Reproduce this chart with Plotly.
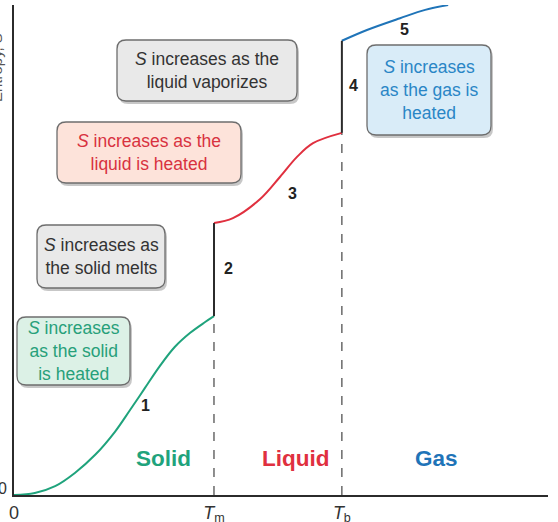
import plotly.graph_objects as go

# ---- data (arbitrary units: temperature 0..100, entropy 0..100) ----
T_m = 37.45
T_b = 61.4

solid_T = [0, 3.9, 7.7, 11.4, 15.2, 18.9, 21.7, 24.5, 27.3, 30.1, 33.0, 35.8, 37.45]
solid_S = [0, 0.4, 1.8, 4.5, 8.2, 12.9, 17.3, 21.8, 26.3, 30.2, 33.1, 35.3, 36.5]

liquid_T = [37.45, 41.0, 46.1, 49.8, 53.0, 56.0, 61.4]
liquid_S = [55.5, 56.5, 60.4, 64.9, 69.0, 71.8, 73.9]

gas_T = [61.4, 66.1, 72.3, 77.0, 81.3]
gas_S = [92.7, 94.9, 97.3, 99.0, 100.0]

x_tick_vals = [0, T_m, T_b]
x_tick_text = ["0", "<i>T</i><sub>m</sub>", "<i>T</i><sub>b</sub>"]

GREEN = "#1fa37c"
RED = "#e0303f"
BLUE = "#1f74b8"
DARK = "#2b2b2b"
FONT = "Liberation Sans, Arial"

# ---- layout geometry ----
W, H = 558, 522
ML, MR, MT, MB = 14, 10, 5, 27
PW, PH = W - ML - MR, H - MT - MB
XR, YR = [0, 100], [0, 100]


def px2x(px):
    return XR[0] + (px - ML) / PW * (XR[1] - XR[0])


def py2y(py):
    return YR[0] + (MT + PH - py) / PH * (YR[1] - YR[0])


def rounded_path(x0, y0, x1, y1, r=9):
    pts = []
    pts.append(f"M {px2x(x0 + r)},{py2y(y0)}")
    pts.append(f"L {px2x(x1 - r)},{py2y(y0)}")
    pts.append(f"Q {px2x(x1)},{py2y(y0)} {px2x(x1)},{py2y(y0 + r)}")
    pts.append(f"L {px2x(x1)},{py2y(y1 - r)}")
    pts.append(f"Q {px2x(x1)},{py2y(y1)} {px2x(x1 - r)},{py2y(y1)}")
    pts.append(f"L {px2x(x0 + r)},{py2y(y1)}")
    pts.append(f"Q {px2x(x0)},{py2y(y1)} {px2x(x0)},{py2y(y1 - r)}")
    pts.append(f"L {px2x(x0)},{py2y(y0 + r)}")
    pts.append(f"Q {px2x(x0)},{py2y(y0)} {px2x(x0 + r)},{py2y(y0)} Z")
    return " ".join(pts)


fig = go.Figure()

for xs, ys, col in [(solid_T, solid_S, GREEN), (liquid_T, liquid_S, RED), (gas_T, gas_S, BLUE)]:
    fig.add_trace(go.Scatter(x=xs, y=ys, mode="lines",
                             line=dict(color=col, width=2, shape="spline", smoothing=1.0),
                             hoverinfo="skip"))
# vertical jumps
fig.add_trace(go.Scatter(x=[T_m, T_m], y=[solid_S[-1], liquid_S[0]], mode="lines",
                         line=dict(color=DARK, width=2), hoverinfo="skip"))
fig.add_trace(go.Scatter(x=[T_b, T_b], y=[liquid_S[-1], gas_S[0]], mode="lines",
                         line=dict(color=DARK, width=2), hoverinfo="skip"))

shapes = []
shapes.append(dict(type="line", x0=T_m, x1=T_m, y0=0, y1=solid_S[-1],
                   line=dict(color="#444", width=1.2, dash="dash"), layer="below"))
shapes.append(dict(type="line", x0=T_b, x1=T_b, y0=0, y1=liquid_S[-1],
                   line=dict(color="#444", width=1.2, dash="dash"), layer="below"))

boxes = [
    (117, 40, 297, 101, "#e9e9e9", "#333333",
     "<i>S</i> increases as the<br>liquid vaporizes"),
    (57, 122, 241, 183, "#fde3da", "#d8323f",
     "<i>S</i> increases as the<br>liquid is heated"),
    (37, 225, 165, 288, "#e9e9e9", "#333333",
     "<i>S</i> increases as<br>the solid melts"),
    (17, 317, 130, 385, "#dcf1e6", "#27a07a",
     "<i>S</i> increases<br>as the solid<br>is heated"),
    (367, 45, 491, 135, "#d9ecf8", "#2a86c6",
     "<i>S</i> increases<br>as the gas is<br>heated"),
]

annotations = []
for (x0, y0, x1, y1, fill, tc, txt) in boxes:
    shapes.append(dict(type="path", path=rounded_path(x0 + 2, y0 + 3, x1 + 2, y1 + 3),
                       fillcolor="rgba(0,0,0,0.22)", line=dict(width=0), layer="above"))
    shapes.append(dict(type="path", path=rounded_path(x0, y0, x1, y1),
                       fillcolor=fill, line=dict(color="#6d6d6d", width=1.3), layer="above"))
    annotations.append(dict(x=px2x((x0 + x1) / 2), y=py2y((y0 + y1) / 2),
                            xref="x", yref="y", text=txt, showarrow=False,
                            font=dict(size=17.5, color=tc, family=FONT),
                            align="center"))

for n, (px, py) in zip(["1", "2", "3", "4", "5"],
                       [(145, 405), (228, 268), (292, 193), (353, 85), (404, 29)]):
    annotations.append(dict(x=px2x(px), y=py2y(py), xref="x", yref="y", text=f"<b>{n}</b>",
                            showarrow=False,
                            font=dict(size=16, color="#222", family=FONT)))

for txt, col, px in [("Solid", GREEN, 163), ("Liquid", RED, 295), ("Gas", BLUE, 436)]:
    annotations.append(dict(x=px2x(px), y=py2y(458), xref="x", yref="y", text=f"<b>{txt}</b>",
                            showarrow=False,
                            font=dict(size=22.5, color=col, family=FONT)))

# y-axis title (mostly cut off at the left edge)
annotations.append(dict(x=-(ML + 4) / PW, y=py2y(68) / 100, xref="paper", yref="paper",
                        text="Entropy, <i>S</i>", textangle=-90, showarrow=False,
                        xanchor="center", yanchor="middle",
                        font=dict(size=15, color="#555", family=FONT)))
# y zero label
annotations.append(dict(x=-(ML + 4) / PW, y=py2y(499) / 100, xref="paper", yref="paper",
                        text="0", showarrow=False, xanchor="left",
                        font=dict(size=16, color="#333", family=FONT)))

fig.update_layout(
    width=W, height=H,
    margin=dict(l=ML, r=MR, t=MT, b=MB, autoexpand=False),
    paper_bgcolor="white", plot_bgcolor="white",
    showlegend=False,
    shapes=shapes, annotations=annotations,
    xaxis=dict(range=XR, showgrid=False, zeroline=False, showline=True,
               linecolor=DARK, linewidth=2, ticks="", automargin=False,
               tickvals=x_tick_vals, ticktext=x_tick_text,
               tickfont=dict(size=18, color="#333", family=FONT),
               fixedrange=True),
    yaxis=dict(range=YR, showgrid=False, zeroline=False, showline=True,
               linecolor=DARK, linewidth=2, ticks="", showticklabels=False,
               automargin=False, fixedrange=True),
)

fig.write_html("out.html", config={"displayModeBar": False},
               post_script="document.body.style.margin='0';document.body.style.overflow='hidden';")
